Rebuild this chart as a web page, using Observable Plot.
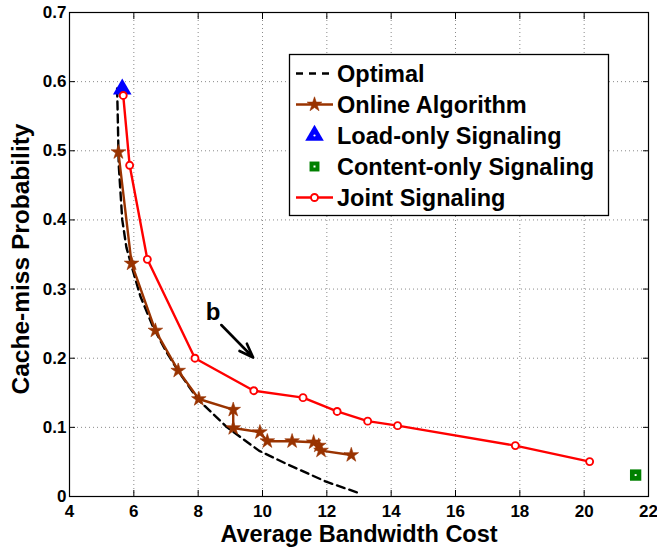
<!DOCTYPE html>
<html><head><meta charset="utf-8">
<script src="https://cdn.jsdelivr.net/npm/d3@7"></script>
<script src="https://cdn.jsdelivr.net/npm/@observablehq/plot@0.6"></script>
<style>body{margin:0;background:#fff;}</style>
</head><body><div id="chart"></div>
<script>
// ---- data ----
const xTicks = [4, 6, 8, 10, 12, 14, 16, 18, 20, 22];
const yTicks = [0, 0.1, 0.2, 0.3, 0.4, 0.5, 0.6, 0.7];
const yTickLabels = ["0", "0.1", "0.2", "0.3", "0.4", "0.5", "0.6", "0.7"];

const optimalX = [5.48, 5.5, 5.53, 5.64, 5.77, 5.95, 6.2, 6.6, 7.0, 7.4, 8.0, 8.9, 9.9, 10.8, 12.0, 13.0];
const optimalY = [0.59, 0.55, 0.48, 0.40, 0.36, 0.33, 0.29, 0.245, 0.21, 0.18, 0.14, 0.10, 0.066, 0.046, 0.021, 0.005];

const onlineX = [5.52, 5.93, 6.67, 7.38, 8.02, 9.09, 9.09, 9.92, 10.15, 10.92, 11.59, 11.75, 11.82, 12.76];
const onlineY = [0.498, 0.337, 0.24, 0.182, 0.141, 0.1255, 0.099, 0.093, 0.08, 0.08, 0.0784, 0.0736, 0.0664, 0.06];

const loadOnlyX = [5.64];
const loadOnlyY = [0.589];

const contentOnlyX = [21.6];
const contentOnlyY = [0.031];

const jointX = [5.67, 5.87, 6.42, 7.9, 9.73, 11.26, 12.32, 13.27, 14.2, 17.86, 20.17];
const jointY = [0.58, 0.479, 0.343, 0.2, 0.153, 0.143, 0.123, 0.109, 0.1025, 0.0736, 0.0505];

const seriesNames = ["Optimal", "Online Algorithm", "Load-only Signaling", "Content-only Signaling", "Joint Signaling"];

const annotationLabel = [{x: 8.46, y: 0.267, text: "b"}];
const annotationArrow = [{x1: 8.72, y1: 0.248, x2: 9.71, y2: 0.201}];

// ---- styling ----
const FONT = "'Liberation Sans', Arial, Helvetica, sans-serif";
const BROWN = "#993300";
const RED = "#ff0000";
const BLUE = "#0000ff";
const GREEN = "#008000";
const STAR_R = 4.6, TRI_R = 6.9, SQ_R = 6.4, CIRC_R = 3.5;

const toRows = (xs, ys) => xs.map((x, i) => ({x, y: ys[i]}));
const optimal = toRows(optimalX, optimalY);
const online = toRows(onlineX, onlineY);
const loadOnly = toRows(loadOnlyX, loadOnlyY);
const contentOnly = toRows(contentOnlyX, contentOnlyY);
const joint = toRows(jointX, jointY);

const gridStyle = {stroke: "#8a8a8a", strokeWidth: 1, strokeDasharray: "1,3"};

const chart = Plot.plot({
  width: 657,
  height: 547,
  marginLeft: 69,
  marginRight: 9,
  marginTop: 12,
  marginBottom: 51,
  style: {fontFamily: FONT, fontWeight: "bold", background: "white", color: "black"},
  x: {domain: [4, 22]},
  y: {domain: [0, 0.7]},
  marks: [
    Plot.ruleX(xTicks.slice(1, -1), {...gridStyle}),
    Plot.ruleY(yTicks.slice(1, -1), {...gridStyle}),
    Plot.line(optimal, {x: "x", y: "y", stroke: "black", strokeWidth: 2.4, strokeDasharray: "8,5"}),
    Plot.line(online, {x: "x", y: "y", stroke: BROWN, strokeWidth: 2.4}),
    Plot.dot(online, {x: "x", y: "y", symbol: "star", r: STAR_R, fill: BROWN, stroke: BROWN, strokeWidth: 0.6}),
    Plot.dot(loadOnly, {x: "x", y: "y", symbol: "triangle", r: TRI_R, fill: BLUE}),
    Plot.dot(contentOnly, {x: "x", y: "y", symbol: "square", r: SQ_R, fill: GREEN}),
    Plot.dot(contentOnly, {x: "x", y: "y", symbol: "square", r: 1.1, fill: "white"}),
    Plot.line(joint, {x: "x", y: "y", stroke: RED, strokeWidth: 2.4}),
    Plot.dot(joint, {x: "x", y: "y", r: CIRC_R, fill: "white", stroke: RED, strokeWidth: 1.9}),
    Plot.arrow(annotationArrow, {x1: "x1", y1: "y1", x2: "x2", y2: "y2", stroke: "black", strokeWidth: 2.6, headLength: 11, headAngle: 40}),
    Plot.text(annotationLabel, {x: "x", y: "y", text: "text", fontSize: 24, fontWeight: "bold", fill: "black"}),
    Plot.frame({stroke: "black", strokeWidth: 1.2}),
    Plot.axisX({anchor: "bottom", ticks: xTicks, tickSize: -6, tickPadding: 14.5, fontSize: 17, label: null}),
    Plot.axisX({anchor: "top", ticks: xTicks, tickSize: -6, tickFormat: () => "", label: null}),
    Plot.axisY({anchor: "left", ticks: yTicks, tickSize: -6, tickPadding: 9, fontSize: 17, label: null,
      tickFormat: (d) => yTickLabels[yTicks.indexOf(d)]}),
    Plot.axisY({anchor: "right", ticks: yTicks, tickSize: -6, tickFormat: () => "", label: null}),
    Plot.text(["Average Bandwidth Cost"], {frameAnchor: "bottom", textAnchor: "middle", dy: 37.5, lineAnchor: "middle", fontSize: 23.5, fontWeight: "bold", fill: "black"}),
    Plot.text(["Cache-miss Probability"], {frameAnchor: "left", textAnchor: "middle", dx: -48, dy: 4.5, rotate: -90, lineAnchor: "middle", fontSize: 24.5, fontWeight: "bold", fill: "black"})
  ]
});

document.getElementById("chart").appendChild(chart);

// ---- legend (inside plot, upper right) ----
const svg = d3.select(chart);
const lg = svg.append("g").attr("font-family", FONT).attr("font-weight", "bold").attr("font-size", 23.5)
  .attr("text-anchor", "start");
lg.append("rect").attr("x", 289.5).attr("y", 54.5).attr("width", 319).attr("height", 161)
  .attr("fill", "white").attr("stroke", "black").attr("stroke-width", 1.3);
const rowY = (i) => 73.5 + i * 31;
const lx1 = 296, lx2 = 333, lxc = 314.5, ltx = 337;
seriesNames.forEach((name, i) => {
  const cy = rowY(i);
  const g = lg.append("g");
  if (i === 0) {
    g.append("line").attr("x1", lx1).attr("x2", lx2).attr("y1", cy).attr("y2", cy)
      .attr("stroke", "black").attr("stroke-width", 2.4).attr("stroke-dasharray", "7,6");
  } else if (i === 1) {
    g.append("line").attr("x1", lx1).attr("x2", lx2).attr("y1", cy).attr("y2", cy)
      .attr("stroke", BROWN).attr("stroke-width", 2.4);
    g.append("path").attr("d", d3.symbol(d3.symbolStar, STAR_R * STAR_R * Math.PI)())
      .attr("transform", `translate(${lxc},${cy})`).attr("fill", BROWN).attr("stroke", BROWN).attr("stroke-width", 0.6);
  } else if (i === 2) {
    g.append("path").attr("d", d3.symbol(d3.symbolTriangle, TRI_R * TRI_R * Math.PI)())
      .attr("transform", `translate(${lxc},${cy})`).attr("fill", BLUE);
    g.append("circle").attr("cx", lxc).attr("cy", cy).attr("r", 1.1).attr("fill", "white");
  } else if (i === 3) {
    g.append("path").attr("d", d3.symbol(d3.symbolSquare, 5.6 * 5.6 * Math.PI)())
      .attr("transform", `translate(${lxc},${cy})`).attr("fill", GREEN);
    g.append("rect").attr("x", lxc - 1).attr("y", cy - 1).attr("width", 2).attr("height", 2).attr("fill", "white");
  } else {
    g.append("line").attr("x1", lx1).attr("x2", lx2).attr("y1", cy).attr("y2", cy)
      .attr("stroke", RED).attr("stroke-width", 2.4);
    g.append("circle").attr("cx", lxc).attr("cy", cy).attr("r", CIRC_R).attr("fill", "white")
      .attr("stroke", RED).attr("stroke-width", 1.9);
  }
  g.append("text").attr("x", ltx).attr("y", cy).attr("dy", "0.36em").attr("fill", "black").text(name);
});
</script></body></html>
